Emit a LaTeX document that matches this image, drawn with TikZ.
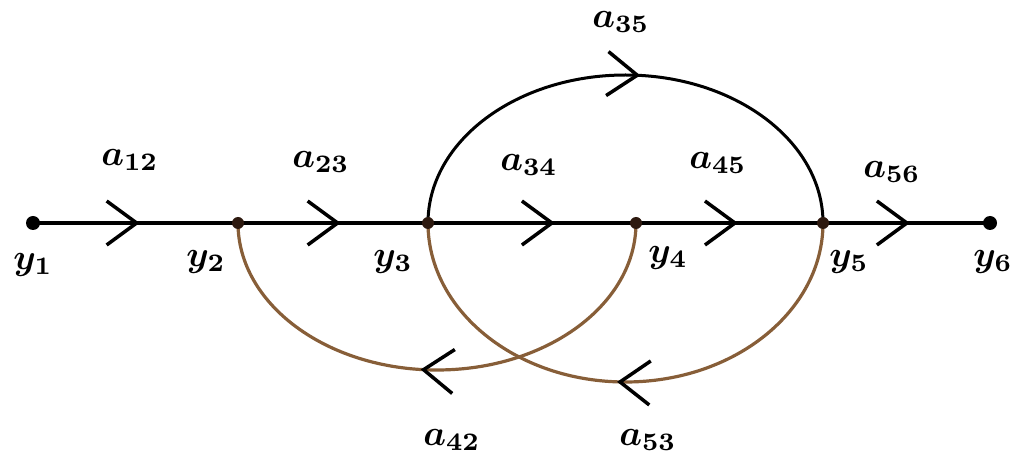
\documentclass[tikz,border=0pt]{standalone}
\usepackage{amsmath,bm}
\usetikzlibrary{arrows.meta,decorations.markings}
\definecolor{arcbrown}{RGB}{135,94,56}
\definecolor{dotdark}{RGB}{45,25,15}
\tikzset{
  chev/.tip={Straight Barb[length=30pt,width=44pt,line width=3.5pt]},
  flow/.style={postaction={decorate},decoration={markings,mark=at position #1 with {\arrow[black]{chev}}}},
  mainline/.style={line width=3.5pt,black},
  backline/.style={line width=3.2pt,arcbrown},
  enddot/.style={circle,fill=black,inner sep=0pt,minimum size=14pt},
  middot/.style={circle,fill=dotdark,inner sep=0pt,minimum size=12pt},
  lab/.style={inner sep=0pt,scale=3.6},
}
\newcommand{\gain}[1]{$\bm{a}_{\mathbf{#1}}$}
\newcommand{\sig}[1]{$\bm{y}_{\mathbf{#1}}$}
\begin{document}
\begin{tikzpicture}[x=1pt,y=1pt]
\useasboundingbox (0,0) rectangle (1015,458);
\coordinate (y1) at (33,235);
\coordinate (y2) at (238,235);
\coordinate (y3) at (428,235);
\coordinate (y4) at (636,235);
\coordinate (y5) at (823,235);
\coordinate (y6) at (990,235);
% forward branches
\draw[mainline,flow=0.52] (y1) -- (y2);
\draw[mainline,flow=0.54] (y2) -- (y3);
\draw[mainline,flow=0.61] (y3) -- (y4);
\draw[mainline,flow=0.545] (y4) -- (y5);
\draw[mainline,flow=0.52] (y5) -- (y6);
% upper arc y3 -> y5
\draw[mainline,line width=3pt,flow=0.527] (y3) arc[start angle=180,end angle=0,x radius=197.5,y radius=148];
% feedback arcs
\draw[backline,flow=0.53] (y4) arc[start angle=0,end angle=-180,x radius=199,y radius=147];
\draw[backline,flow=0.515] (y5) arc[start angle=0,end angle=-180,x radius=197.5,y radius=159];
% dots
\node[enddot] (d1) at (y1) {};
\node[middot] (d2) at (y2) {};
\node[middot] (d3) at (y3) {};
\node[middot] (d4) at (y4) {};
\node[middot] (d5) at (y5) {};
\node[enddot] (d6) at (y6) {};
% signal labels
\node[lab] (l1) at (33,193) {\sig{1}};
\node[lab] (l2) at (206,196) {\sig{2}};
\node[lab] (l3) at (393,196) {\sig{3}};
\node[lab] (l4) at (668,200) {\sig{4}};
\node[lab] (l5) at (849,196) {\sig{5}};
\node[lab] (l6) at (993,196) {\sig{6}};
% gain labels
\node[lab] (g12) at (130,298) {\gain{12}};
\node[lab] (g23) at (321,296) {\gain{23}};
\node[lab] (g34) at (529,293) {\gain{34}};
\node[lab] (g45) at (718,295) {\gain{45}};
\node[lab] (g56) at (892,286) {\gain{56}};
\node[lab] (g35) at (621,436) {\gain{35}};
\node[lab] (g42) at (452,18) {\gain{42}};
\node[lab] (g53) at (648,18) {\gain{53}};
\end{tikzpicture}
\end{document}
